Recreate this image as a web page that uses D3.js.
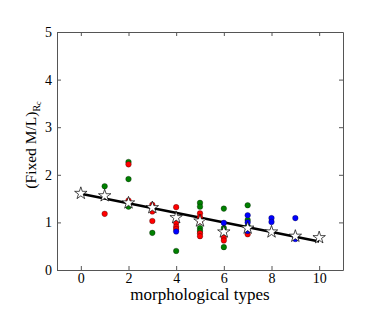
<!DOCTYPE html>
<html>
<head>
<meta charset="utf-8">
<script src="https://cdn.jsdelivr.net/npm/d3@7"></script>
<style>
  body { margin: 0; background: #fff; }
  text { font-family: "Liberation Serif", "DejaVu Serif", serif; }
</style>
</head>
<body>
<div id="chart"></div>
<script>
// morphological type of each galaxy and its fixed M/L
var redX = [1, 2, 2, 3, 3, 3, 4, 4, 4, 4, 5, 5, 5, 5, 5, 6, 6, 7];
var redY = [1.18, 2.22, 1.46, 1.37, 1.23, 1.03, 1.32, 0.99, 0.91, 0.86, 1.19, 1.11, 1.02, 0.77, 0.71, 0.68, 0.62, 0.75];
var greenX = [1, 2, 2, 2, 3, 4, 5, 5, 5, 5, 6, 6, 6, 7, 7, 7];
var greenY = [1.76, 2.27, 1.91, 1.33, 0.78, 0.40, 1.41, 1.33, 0.88, 0.82, 1.29, 0.88, 0.48, 1.36, 1.05, 0.92];
var blueX = [4, 6, 7, 7, 7, 8, 8, 9, 9];
var blueY = [0.81, 0.99, 1.15, 1.00, 0.82, 1.09, 1.01, 1.09, 0.65];
var starX = [0, 1, 2, 3, 4, 5, 6, 7, 8, 9, 10];
var starY = [1.61, 1.56, 1.41, 1.31, 1.10, 1.03, 0.80, 0.88, 0.80, 0.71, 0.68];
var fitX = [0, 10];
var fitY = [1.6, 0.6];
var xTicks = [0, 2, 4, 6, 8, 10];
var yTicks = [0, 1, 2, 3, 4, 5];

(function() {
    var width = 382, height = 318;
    var margin = {left: 57, right: 39, top: 32, bottom: 48};

    var svg = d3.select("#chart").append("svg")
        .attr("width", width)
        .attr("height", height);

    var x = d3.scaleLinear().domain([-1, 11]).range([margin.left, width - margin.right]);
    var y = d3.scaleLinear().domain([0, 5]).range([height - margin.bottom, margin.top]);

    var plot = svg.append("g");

    // fit line
    plot.append("path")
        .datum(d3.zip(fitX, fitY))
        .attr("d", d3.line().x(function(d) { return x(d[0]); }).y(function(d) { return y(d[1]); }))
        .attr("stroke", "#000")
        .attr("stroke-width", 2.5)
        .attr("fill", "none");

    function dots(xs, ys, color) {
        plot.selectAll(null)
            .data(d3.zip(xs, ys))
            .enter().append("circle")
            .attr("cx", function(d) { return x(d[0]); })
            .attr("cy", function(d) { return y(d[1]); })
            .attr("r", 2.8)
            .attr("fill", color)
            .attr("stroke", "#000")
            .attr("stroke-width", 0.3);
    }
    dots(greenX, greenY, "#008000");
    dots(redX, redY, "#ff0000");
    dots(blueX, blueY, "#0000ff");

    plot.selectAll(".star")
        .data(d3.zip(starX, starY))
        .enter().append("path")
        .attr("class", "star")
        .attr("d", d3.symbol().type(d3.symbolStar).size(48))
        .attr("transform", function(d) { return "translate(" + x(d[0]) + "," + y(d[1]) + ")"; })
        .attr("fill", "#fff")
        .attr("stroke", "#000")
        .attr("stroke-width", 0.7);

    // axes, ticks pointing inward on all sides
    var xl = margin.left, xr = width - margin.right;
    var yb = height - margin.bottom, yt = margin.top;
    var fmt = d3.format("d");

    svg.append("g").attr("transform", "translate(0," + yb + ")")
        .call(d3.axisBottom(x).tickValues(xTicks).tickFormat(fmt).tickSizeInner(-4).tickSizeOuter(0).tickPadding(3));
    svg.append("g").attr("transform", "translate(0," + yt + ")")
        .call(d3.axisTop(x).tickValues(xTicks).tickSizeInner(-4).tickSizeOuter(0).tickFormat(""));
    svg.append("g").attr("transform", "translate(" + xl + ",0)")
        .call(d3.axisLeft(y).tickValues(yTicks).tickFormat(fmt).tickSizeInner(-4).tickSizeOuter(0).tickPadding(5));
    svg.append("g").attr("transform", "translate(" + xr + ",0)")
        .call(d3.axisRight(y).tickValues(yTicks).tickSizeInner(-4).tickSizeOuter(0).tickFormat(""));

    svg.selectAll(".domain").attr("stroke", "#555").attr("stroke-width", 1);
    svg.selectAll(".tick line").attr("stroke", "#555");
    svg.selectAll(".tick text")
        .attr("font-family", "Liberation Serif")
        .attr("font-size", 14)
        .attr("fill", "#000");

    svg.append("text")
        .attr("x", (xl + xr) / 2)
        .attr("y", 300)
        .attr("text-anchor", "middle")
        .attr("font-size", 17)
        .text("morphological types");

    var ylab = svg.append("text")
        .attr("transform", "translate(36," + ((yb + yt) / 2 - 6) + ") rotate(-90)")
        .attr("text-anchor", "middle")
        .attr("font-size", 15.5);
    ylab.append("tspan").text("(Fixed M/L)");
    ylab.append("tspan").attr("font-size", 10).attr("dy", 4).text("R");
    ylab.append("tspan").attr("font-size", 8).attr("dy", 1).text("c");
})();
</script>
</body>
</html>
